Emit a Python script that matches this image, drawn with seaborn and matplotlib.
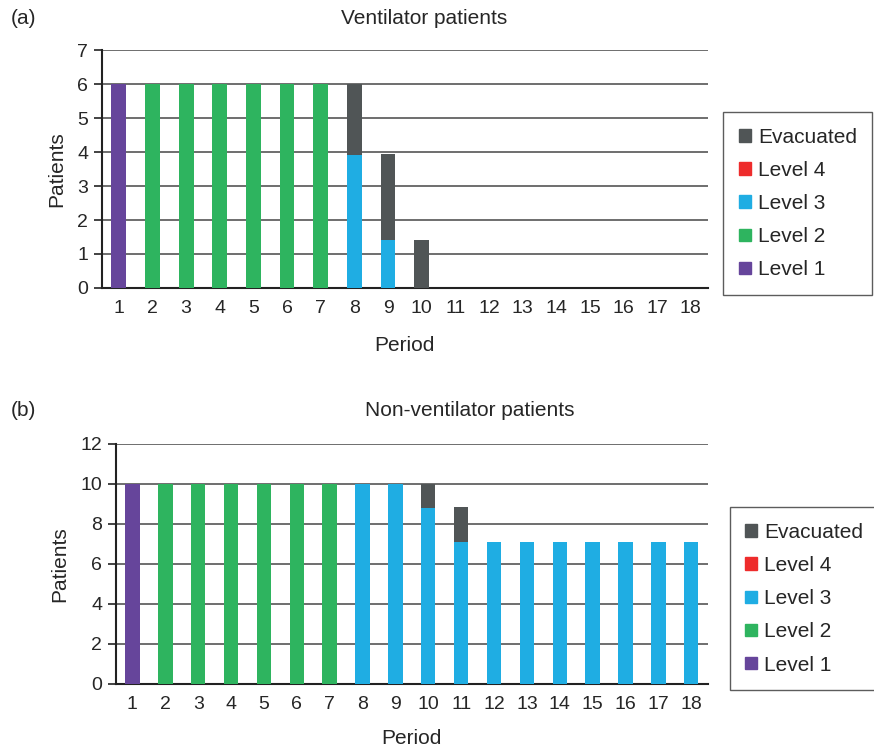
import matplotlib
matplotlib.use('Agg')
import matplotlib.pyplot as plt
from matplotlib.patches import Patch
from matplotlib.ticker import FixedLocator
import numpy as np
import pandas as pd
import seaborn as sns

sns.set_style('white')
plt.rcParams['font.family'] = ['Liberation Sans', 'DejaVu Sans']

# Dados
periods = [str(p) for p in range(1, 19)]

vent_level1 = [6] + [0] * 17
vent_level2 = [0] + [6] * 6 + [0] * 11
vent_level3 = [0] * 7 + [3.9, 1.4] + [0] * 9
vent_level4 = [0] * 18
vent_evac = [0] * 7 + [2.1, 2.55, 1.4] + [0] * 8

nonvent_level1 = [10] + [0] * 17
nonvent_level2 = [0] + [10] * 6 + [0] * 11
nonvent_level3 = [0] * 7 + [10, 10, 8.8, 7.1] + [7.1] * 7
nonvent_level4 = [0] * 18
nonvent_evac = [0] * 9 + [1.2, 1.75] + [0] * 7

layer_names = ['Level 1', 'Level 2', 'Level 3', 'Level 4', 'Evacuated']
layer_colors = ['#66459b', '#2eb45f', '#1fade3', '#ee2c2c', '#505556']


def draw_panel(ax, layers, ymax, ystep, leg_x, xlabelpad):
    df = pd.DataFrame(dict(zip(layer_names, layers)), index=periods)
    cum = df.cumsum(axis=1)
    cum['period'] = periods
    # desenhando do topo para baixo (empilhamento)
    for name, color in reversed(list(zip(layer_names, layer_colors))):
        sns.barplot(data=cum, x='period', y=name, order=periods, color=color,
                    width=0.44, errorbar=None, saturation=1, ax=ax, zorder=3,
                    linewidth=0)
    ax.set_xlim(-0.5, 17.5)
    ax.set_ylim(0, ymax)
    ax.set_yticks(np.arange(0, ymax + 0.01, ystep))
    ax.yaxis.grid(True, color='#555555', lw=1.2, zorder=0)
    ax.set_axisbelow(True)
    ax.xaxis.set_minor_locator(FixedLocator(np.arange(-0.5, 18, 1)))
    ax.tick_params(axis='x', which='major', length=0, pad=9, labelsize=14)
    ax.tick_params(axis='x', which='minor', length=6, width=1.2, color='#222222')
    ax.tick_params(axis='y', length=6, width=1.2, color='#222222', labelsize=14, left=True, pad=4)
    for s in ['top', 'right']:
        ax.spines[s].set_visible(False)
    for s in ['left', 'bottom']:
        ax.spines[s].set_color('#222222')
        ax.spines[s].set_linewidth(1.5)
    ax.set_xlabel('Period', fontsize=15, labelpad=xlabelpad)
    ax.set_ylabel('Patients', fontsize=15, labelpad=8)
    handles = [Patch(color=c, label=n) for n, c in zip(layer_names, layer_colors)]
    handles = handles[::-1]
    leg = ax.legend(handles=handles, loc='center left', bbox_to_anchor=(leg_x, 0.355),
                    frameon=True, fancybox=False, edgecolor='#333333', fontsize=15,
                    handlelength=0.55, handleheight=0.55, handletextpad=0.35,
                    labelspacing=0.68, borderpad=0.75, borderaxespad=0)
    leg.get_frame().set_linewidth(1.0)


fig = plt.figure(figsize=(8.74, 7.48), dpi=100)
ax1 = fig.add_axes([0.1167, 0.615, 0.693, 0.318])
ax2 = fig.add_axes([0.1327, 0.0856, 0.677, 0.321])

draw_panel(ax1, [vent_level1, vent_level2, vent_level3, vent_level4, vent_evac],
           7, 1, 1.026, 13)
draw_panel(ax2, [nonvent_level1, nonvent_level2, nonvent_level3, nonvent_level4, nonvent_evac],
           12, 2, 1.037, 11)

# Titulos e rotulos dos paineis
fig.text(424 / 874, 1 - 18 / 748, 'Ventilator patients', fontsize=15, ha='center', va='center')
fig.text(470 / 874, 1 - 411 / 748, 'Non-ventilator patients', fontsize=15, ha='center', va='center')
fig.text(0.012, 1 - 18 / 748, '(a)', fontsize=15, va='center')
fig.text(0.012, 1 - 411 / 748, '(b)', fontsize=15, va='center')

fig.savefig('out.png', dpi=100)
